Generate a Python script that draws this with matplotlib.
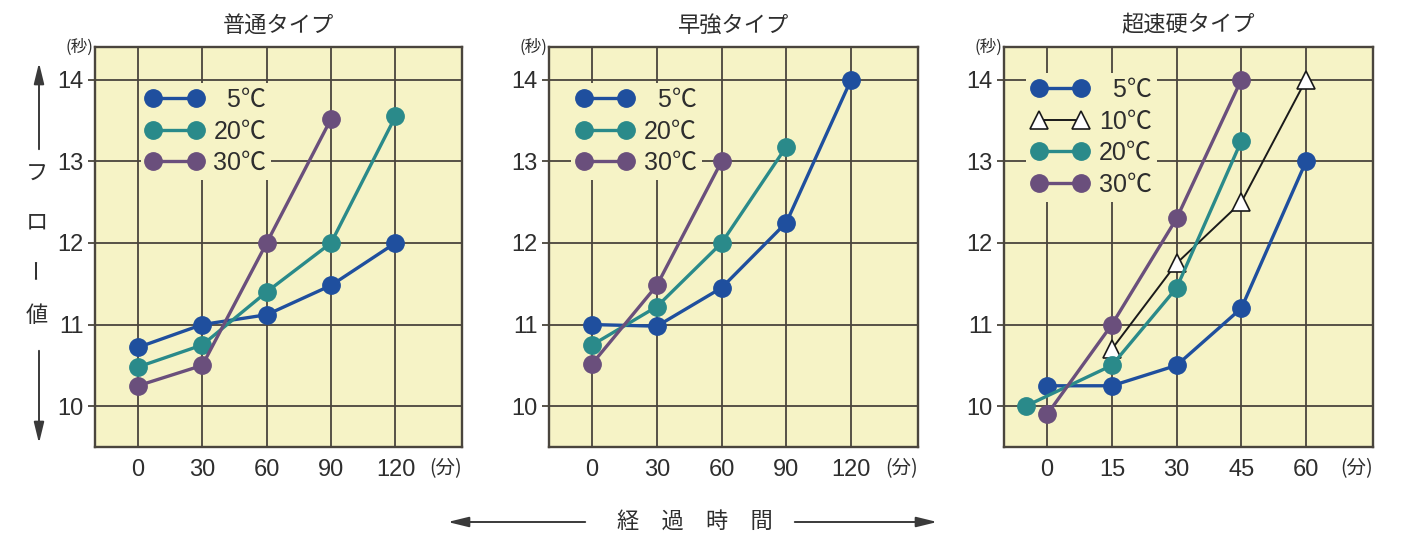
import matplotlib
matplotlib.use("Agg")
import matplotlib.pyplot as plt
import matplotlib.patches as mpatches

plt.rcParams['font.family'] = ['Liberation Sans', 'Noto Sans CJK JP', 'DejaVu Sans']
CJK = ['Noto Sans CJK JP', 'DejaVu Sans']

# ---------------- data ----------------
titles = ["普通タイプ", "早強タイプ", "超速硬タイプ"]

# 普通タイプ
normal_x = [0, 30, 60, 90, 120]
normal_5 = [10.72, 11.0, 11.12, 11.48, 12.0]
normal_20 = [10.48, 10.75, 11.4, 12.0, 13.55]
normal_30 = [10.25, 10.5, 12.0, 13.52]

# 早強タイプ
early_x = [0, 30, 60, 90, 120]
early_5 = [11.0, 10.98, 11.45, 12.25, 14.0]
early_20 = [10.75, 11.22, 12.0, 13.18]
early_30 = [10.52, 11.48, 13.0]

# 超速硬タイプ
rapid_x_5 = [0, 15, 30, 45, 60]
rapid_5 = [10.25, 10.25, 10.5, 11.2, 13.0]
rapid_x_10 = [15, 30, 45, 60]
rapid_10 = [10.7, 11.75, 12.5, 14.0]
rapid_x_20 = [-5, 15, 30, 45]
rapid_20 = [10.0, 10.5, 11.45, 13.25]
rapid_x_30 = [0, 15, 30, 45]
rapid_30 = [9.9, 11.0, 12.3, 14.0]

y_ticks = [10, 11, 12, 13, 14]
x_ticks_normal = [0, 30, 60, 90, 120]
x_ticks_rapid = [0, 15, 30, 45, 60]
labels_3 = ["  5℃", "20℃", "30℃"]
labels_4 = ["  5℃", "10℃", "20℃", "30℃"]

# ---------------- style ----------------
C5 = "#1f4f9e"
C20 = "#2a8a8a"
C30 = "#6a4f7c"
BG = "#f6f3c6"
GRID = "#4a453d"
TXT = "#2e2e2e"

fig = plt.figure(figsize=(14.06, 5.40), dpi=100)
W, H = 1406, 540

def ax_rect(x0, x1, y0, y1):
    return [x0 / W, 1 - y1 / H, (x1 - x0) / W, (y1 - y0) / H]

axes = [
    fig.add_axes(ax_rect(95, 462, 47, 447)),
    fig.add_axes(ax_rect(549, 918, 47, 447)),
    fig.add_axes(ax_rect(1004, 1373, 47, 447)),
]

def style_axis(ax, xticks, xlim, title):
    ax.set_facecolor(BG)
    ax.set_xlim(*xlim)
    ax.set_ylim(9.5, 14.4)
    ax.set_xticks(xticks)
    ax.set_yticks(y_ticks)
    ax.set_axisbelow(True)
    ax.grid(True, color=GRID, linewidth=1.3)
    for s in ax.spines.values():
        s.set_color(GRID)
        s.set_linewidth(1.7)
    ax.tick_params(axis='y', length=5, color=GRID, width=1.3, pad=3,
                   labelsize=17, labelcolor=TXT)
    ax.tick_params(axis='x', length=0, pad=9, labelsize=17, labelcolor=TXT)
    ax.set_title(title, fontsize=16, pad=11, color=TXT, family=CJK)
    ax.text(-0.005, 1.0, "(秒)", transform=ax.transAxes, ha='right',
            va='center', fontsize=12, color=TXT, family=CJK)
    ax.text(1.0, -0.053, "(分)", transform=ax.transAxes, ha='right',
            va='center', fontsize=14, color=TXT, family=CJK)

line_kw = dict(linewidth=2.4, marker='o', markersize=12.5)

def add_legend(ax, handles, labels, anchor):
    leg = ax.legend(handles, labels, loc='upper left', bbox_to_anchor=anchor,
                    numpoints=2, handlelength=2.3, handletextpad=0.4,
                    labelspacing=0.3, borderpad=0.2, borderaxespad=0,
                    fontsize=18, frameon=True, fancybox=False)
    leg.get_frame().set_facecolor(BG)
    leg.get_frame().set_edgecolor('none')
    leg.get_frame().set_alpha(1)
    for t in leg.get_texts():
        t.set_color(TXT)

# panel 1
ax = axes[0]
style_axis(ax, x_ticks_normal, (-20, 151), titles[0])
h5, = ax.plot(normal_x, normal_5, color=C5, **line_kw)
h20, = ax.plot(normal_x, normal_20, color=C20, **line_kw)
h30, = ax.plot(normal_x[:len(normal_30)], normal_30, color=C30, **line_kw)
add_legend(ax, [h5, h20, h30], labels_3, (0.125, 0.91))

# panel 2
ax = axes[1]
style_axis(ax, x_ticks_normal, (-20, 151), titles[1])
h5, = ax.plot(early_x, early_5, color=C5, **line_kw)
h20, = ax.plot(early_x[:len(early_20)], early_20, color=C20, **line_kw)
h30, = ax.plot(early_x[:len(early_30)], early_30, color=C30, **line_kw)
add_legend(ax, [h5, h20, h30], labels_3, (0.06, 0.91))

# panel 3
ax = axes[2]
style_axis(ax, x_ticks_rapid, (-10, 75.5), titles[2])
h5, = ax.plot(rapid_x_5, rapid_5, color=C5, **line_kw)
h10, = ax.plot(rapid_x_10, rapid_10, color='#1a1a1a', linewidth=1.4,
               marker='^', markersize=12.5, markerfacecolor='white',
               markeredgecolor='#1a1a1a', markeredgewidth=1.2)
h20, = ax.plot(rapid_x_20, rapid_20, color=C20, **line_kw)
h30, = ax.plot(rapid_x_30, rapid_30, color=C30, **line_kw)
add_legend(ax, [h5, h10, h20, h30], labels_4, (0.06, 0.935))

# ---------------- y-axis label (vertical) ----------------
def fx(px):
    return px / W

def fy(py):
    return 1 - py / H

for ch, py, rot in [("フ", 174, 0), ("ロ", 222, 0), ("ー", 268, 90), ("値", 316, 0)]:
    fig.text(fx(37), fy(py), ch, ha='center', va='center', fontsize=16,
             color=TXT, rotation=rot, family=CJK)

arrow_kw = dict(arrowstyle='-|>,head_length=0.9,head_width=0.22',
                color='#3a3a3a', lw=1.4)
fig.add_artist(mpatches.FancyArrowPatch(
    (fx(39), fy(152)), (fx(39), fy(60)), transform=fig.transFigure,
    mutation_scale=14, **arrow_kw))
fig.add_artist(mpatches.FancyArrowPatch(
    (fx(39), fy(348)), (fx(39), fy(446)), transform=fig.transFigure,
    mutation_scale=14, **arrow_kw))

# ---------------- x-axis common label ----------------
fig.text(fx(695), fy(521), "経　過　時　間", ha='center', va='center',
         fontsize=16, color=TXT, family=CJK)
fig.add_artist(mpatches.FancyArrowPatch(
    (fx(588), fy(522)), (fx(445), fy(522)), transform=fig.transFigure,
    mutation_scale=14, **arrow_kw))
fig.add_artist(mpatches.FancyArrowPatch(
    (fx(792), fy(522)), (fx(940), fy(522)), transform=fig.transFigure,
    mutation_scale=14, **arrow_kw))

fig.savefig("out.png", dpi=100, facecolor='white')
